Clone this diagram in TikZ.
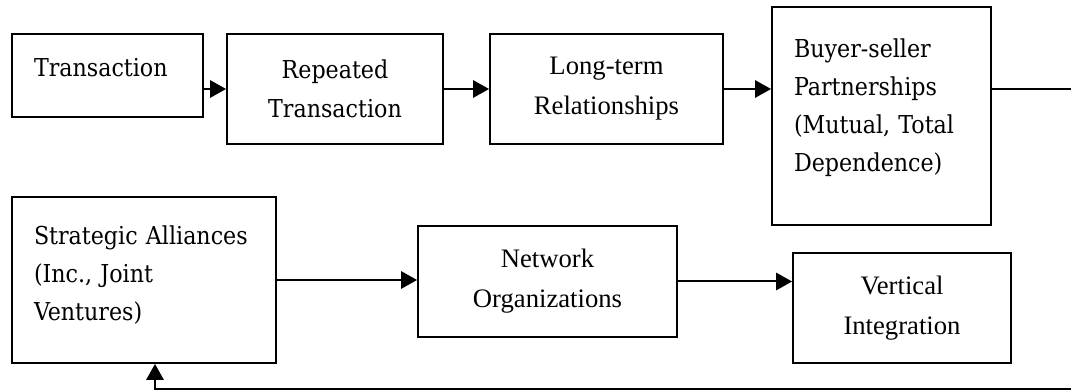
\documentclass[tikz,border=0pt]{standalone}
\usepackage{fontspec}
\setmainfont{Liberation Serif}
\newfontfamily\camb{DejaVu Serif Condensed}
\usetikzlibrary{arrows.meta}
\tikzset{
  box/.style={draw,line width=1.4pt,inner sep=0pt,minimum width=0.75pt*#1},
  lbox/.style={box=#1,align=left,text width=\dimexpr 0.75pt*(#1-44)\relax,font=\camb\fontsize{18.5}{28.5}\selectfont},
  cbox/.style={box=#1,align=center,font=\fontsize{20}{30}\selectfont},
  cambc/.style={box=#1,align=center,font=\camb\fontsize{18.5}{29}\selectfont},
  arr/.style={-{Triangle[length=12pt,width=13pt]},line width=1.5pt}
}
\begin{document}
\begin{tikzpicture}[x=0.75pt,y=-0.75pt]
	\useasboundingbox (0,0) rectangle (1071,391);
	\node [lbox=191,minimum height=62.25pt] (tr) at (107.5,75.5) {Transaction\\[-16pt]\mbox{}};
	\node [cambc=216,minimum height=82.5pt] (rt) at (335,89) {Repeated\\Transaction};
	\node [cbox=233,minimum height=82.5pt] (lt) at (606.5,89) {Long-term\\Relationships};
	\node [lbox=219,minimum height=163.5pt] (bsp) at (881.5,116) {Buyer-seller\\Partnerships\\(Mutual, Total\\Dependence)\\[-12pt]\mbox{}};
	\node [lbox=264,minimum height=124.5pt] (sa) at (144,280) {Strategic Alliances\\(Inc., Joint\\Ventures)\\[-18pt]\mbox{}};
	\node [cbox=259,minimum height=83.25pt] (nw) at (547.5,281.5) {Network\\Organizations};
	\node [cbox=218,minimum height=82.5pt] (vi) at (902,308) {Vertical\\Integration};
	\coordinate (out) at (1071,89);
	\coordinate (back) at (1071,389.5);
	\coordinate (turn) at (155,389.5);
	% top row
	\draw [arr] (tr.east |- rt.west) -- (rt.west);
	\draw [arr] (rt.east) -- (lt.west);
	\draw [arr] (lt.east) -- (lt.east -| bsp.west);
	\draw [line width=1.1pt] (bsp.east |- lt.east) -- (out);
	% bottom row
	\draw [arr] (sa.east) -- (sa.east -| nw.west);
	\draw [arr] (nw.east) -- (nw.east -| vi.west);
	\draw [arr] (back) -- (turn) -- (turn |- sa.south);
\end{tikzpicture}
\end{document}
